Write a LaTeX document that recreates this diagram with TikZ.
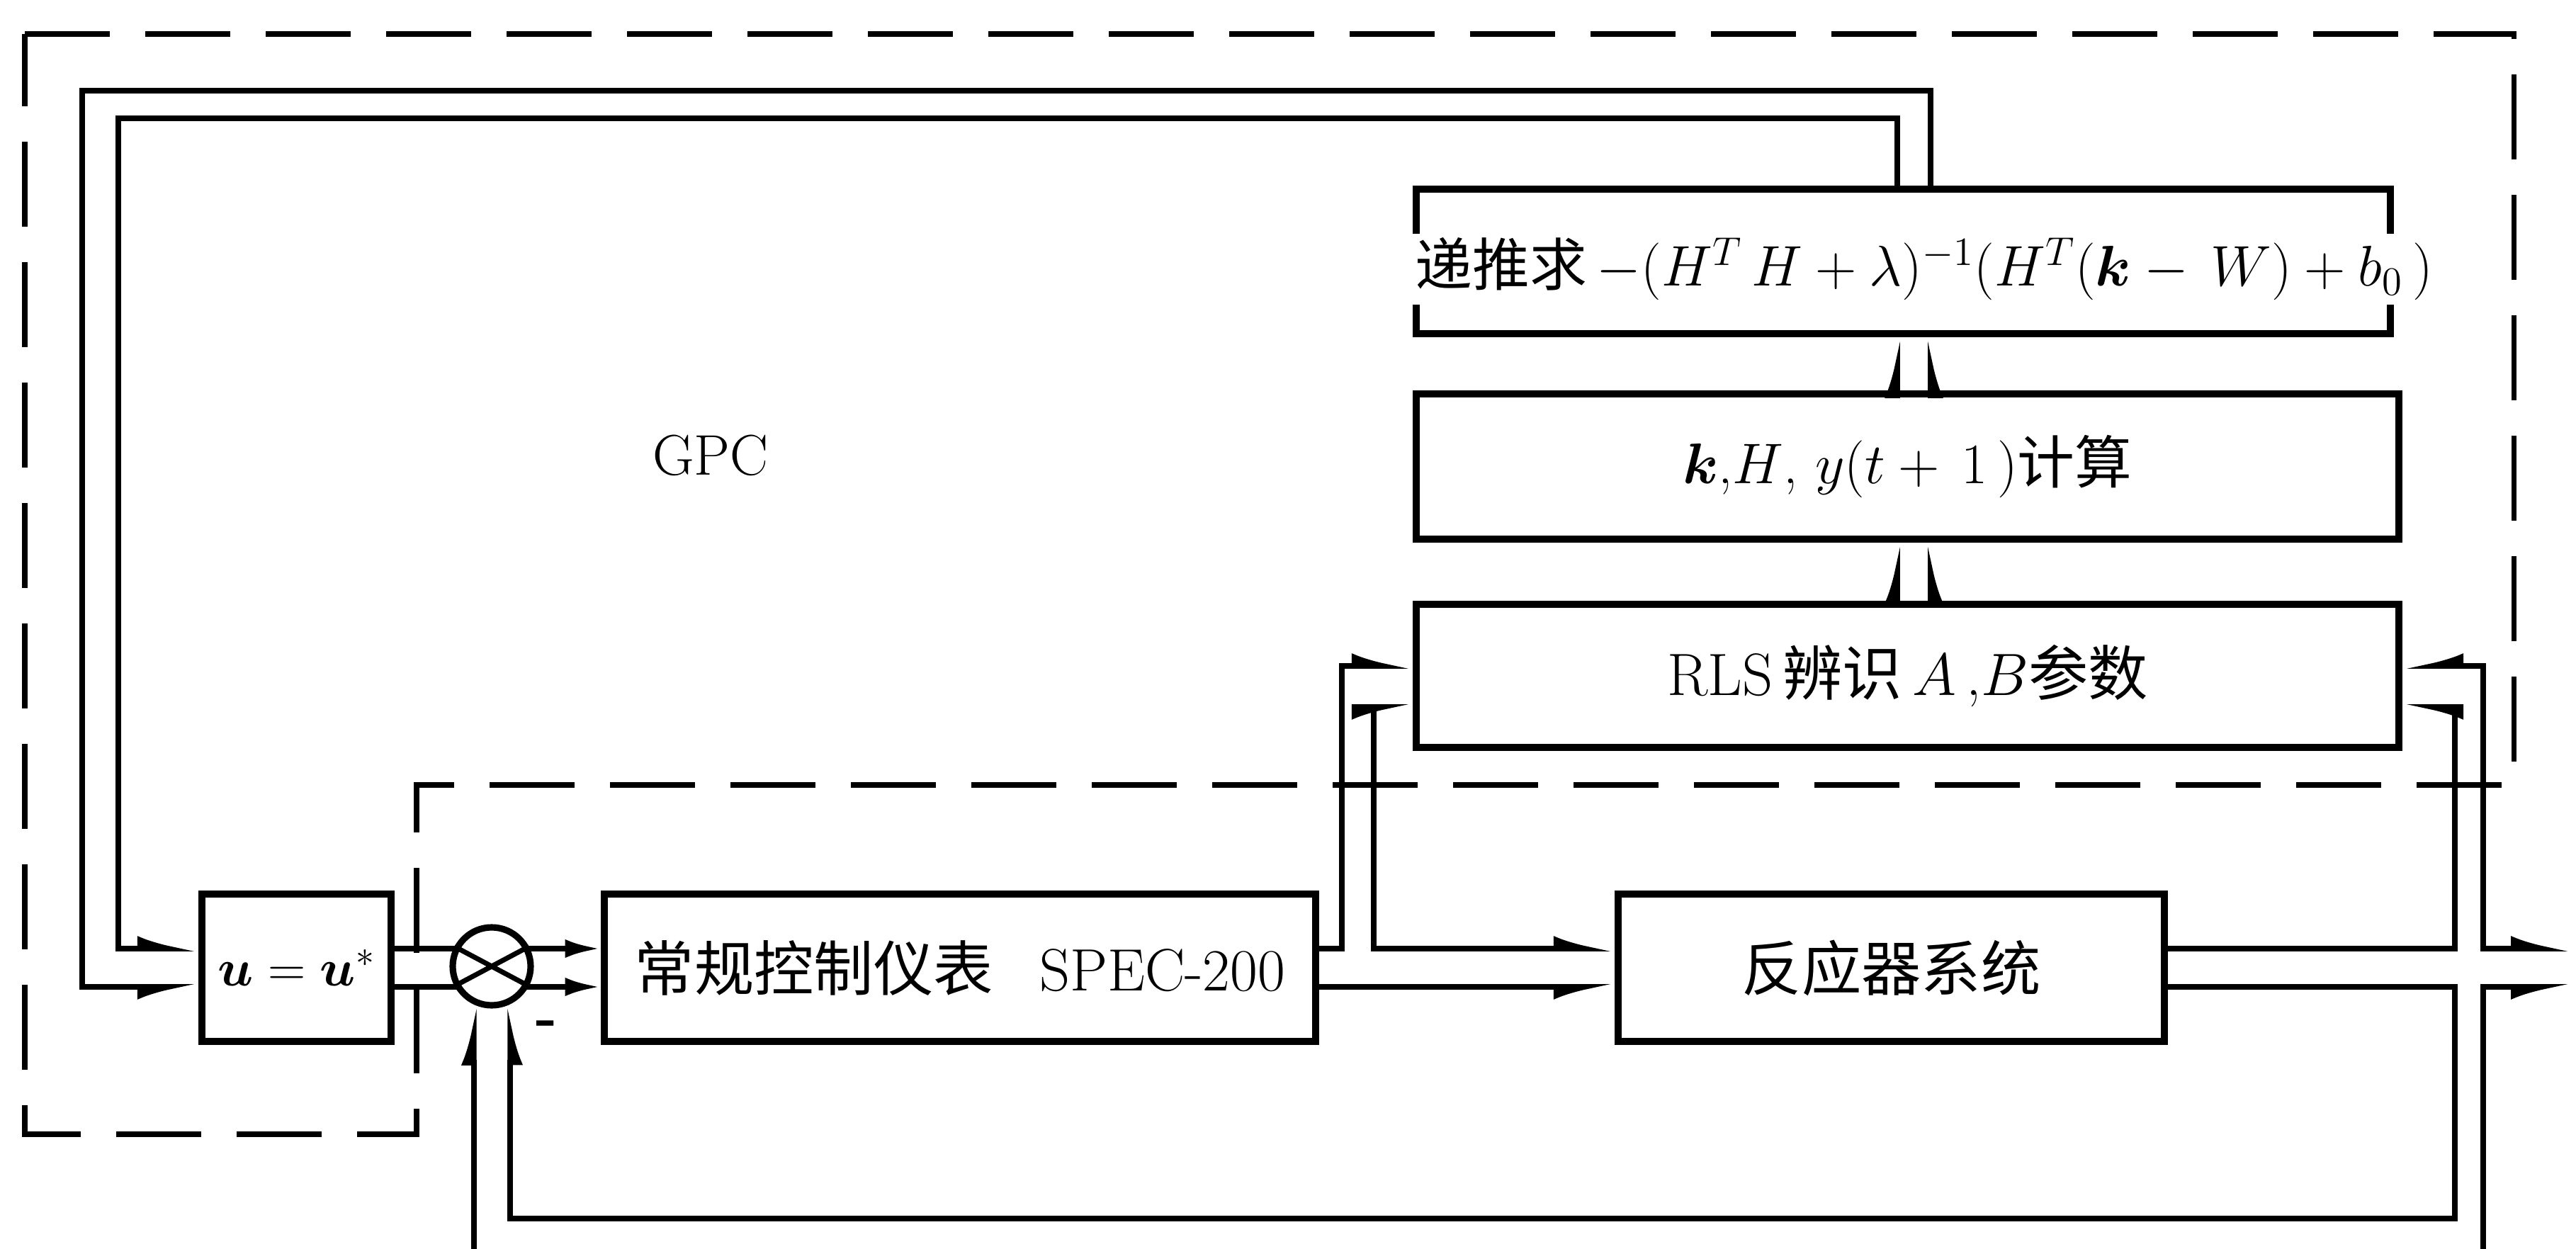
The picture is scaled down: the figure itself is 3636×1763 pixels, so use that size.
\RequirePackage{fix-cm}
\documentclass[tikz,border=0pt]{standalone}
\usepackage{amsmath}
\usepackage{fontspec}
\newfontfamily\cjk{Noto Sans CJK SC}
\usetikzlibrary{arrows.meta}
\begin{document}
\begin{tikzpicture}[x=0.1mm,y=-0.1mm,
  box/.style={draw,line width=3pt,rectangle,inner sep=0pt},
  sig/.style={line width=2.2pt,line join=miter,line cap=rect},
  hl/.style={-{Latex[harpoon,length=6.5mm,width=3.6mm]}},
  hr/.style={-{Latex[harpoon,swap,length=6.5mm,width=3.6mm]}},
  sm/.style={-{Latex[length=5mm,width=2.6mm]}},
  bnd/.style={line width=2pt,dash pattern=on 12mm off 5mm},
  txt/.style={font=\fontsize{23}{27}\selectfont},
  btxt/.style={font=\fontsize{24}{28}\selectfont}
]
\useasboundingbox (0,0) rectangle (3636,1763);
\fill[white] (0,0) rectangle (3636,1763);

% boundary of the GPC part
\draw[bnd] (35,48) -- (3548,48) -- (3548,1108) -- (588,1108) -- (588,1601) -- (35,1601) -- cycle;

% blocks
\node[box,minimum width=137.5mm,minimum height=20.4mm] (rec) at (2686.5,369) {};
\node[box,txt,minimum width=138.7mm,minimum height=20.5mm] (kb) at (2692.5,658.5)
  {$\boldsymbol{k}$,$H$, $y(t+\,1\,)${\cjk 计算}};
\node[box,btxt,minimum width=138.7mm,minimum height=20.2mm] (rls) at (2692.5,954)
  {RLS\,{\cjk 辨识}\,$A$\,,$B${\cjk 参数}};
\node[box,font=\fontsize{21}{25}\selectfont,minimum width=26.7mm,minimum height=20.8mm] (ub) at (418.5,1366)
  {$\boldsymbol{u}=\boldsymbol{u}^{*}$};
\node[box,btxt,minimum width=100.4mm,minimum height=20.8mm] (spec) at (1355,1366)
  {{\cjk 常规控制仪表}\ \ \,SPEC-200};
\node[box,btxt,minimum width=77.1mm,minimum height=20.8mm] (reac) at (2669.5,1366)
  {{\cjk 反应器系统}};
\node[circle,draw,line width=2.6pt,minimum size=11mm,inner sep=0pt] (sum) at (694,1364) {};
\draw[line width=2pt] (sum.152) -- (sum.332) (sum.208) -- (sum.28);

\node[txt,fill=white,inner sep=0.6mm] (rect) at (2716,380)
  {{\cjk 递推求}\,$-(H^{T}\,H+\lambda)^{-1}(H^{T}(\boldsymbol{k}-\,W)+b_{0}\,)$};
\node[txt] (gpc) at (1003,643) {GPC};
\node[txt,font=\fontsize{23}{27}\selectfont\bfseries] (minus) at (772,1452) {-};

% reference coordinates
\coordinate (y1) at (0,1339);
\coordinate (y2) at (0,1393);
\coordinate (ra) at (0,940);
\coordinate (rb) at (0,998);
\coordinate (fb) at (0,1720);
\coordinate (bot) at (0,1763);
\coordinate (xo) at (2725,0);
\coordinate (xi) at (2678,0);
\coordinate (xa) at (1894,0);
\coordinate (xb) at (1939,0);
\coordinate (xc) at (3465,0);
\coordinate (xd) at (3505,0);
\coordinate (e1) at (3630,1339);
\coordinate (e2) at (3630,1393);

% GPC output back to u = u*
\draw[sig,hr] (rec.north -| xo) |- (116,128) |- (ub.west |- y2);
\draw[sig,hl] (rec.north -| xi) |- (167,167) |- (ub.west |- y1);

% between the upper blocks
\draw[sig,hl] (rls.north -| xi) -- (kb.south -| xi);
\draw[sig,hr] (rls.north -| xo) -- (kb.south -| xo);
\draw[sig,hl] (kb.north -| xi) -- (rec.south -| xi);
\draw[sig,hr] (kb.north -| xo) -- (rec.south -| xo);

% u = u* to summing point to SPEC
\draw[sig] (ub.east |- y1) -- (sum.152 |- y1);
\draw[sig] (ub.east |- y2) -- (sum.208 |- y2);
\draw[sig,sm] (sum.28 |- y1) -- (spec.west |- y1);
\draw[sig,sm] (sum.332 |- y2) -- (spec.west |- y2);

% SPEC to reactor and RLS
\draw[sig,hr] (spec.east |- y2) -- (reac.west |- y2);
\draw[sig,hl] (spec.east |- y1) -| (xa |- ra) -- (rls.west |- ra);
\draw[sig,hr] (xb |- y1) -- (xb |- rb) -- (rls.west |- rb);
\draw[sig,hl] (xb |- y1) -- (reac.west |- y1);

% reactor output
\draw[sig,hl] (reac.east |- y1) -| (xc |- rb) -- (rls.east |- rb);
\draw[sig,hr] (xd |- y1) -- (xd |- ra) -- (rls.east |- ra);
\draw[sig,hl] (xd |- y1) -- (e1);
\draw[sig,hr] (xd |- bot) -- (xd |- y2) -- (e2);

% feedback
\draw[sig,hr] (reac.east |- y2) -| (xc |- fb) -| (sum.296);
\draw[sig,hl] (sum.245 |- bot) -- (sum.245);
\end{tikzpicture}
\end{document}
